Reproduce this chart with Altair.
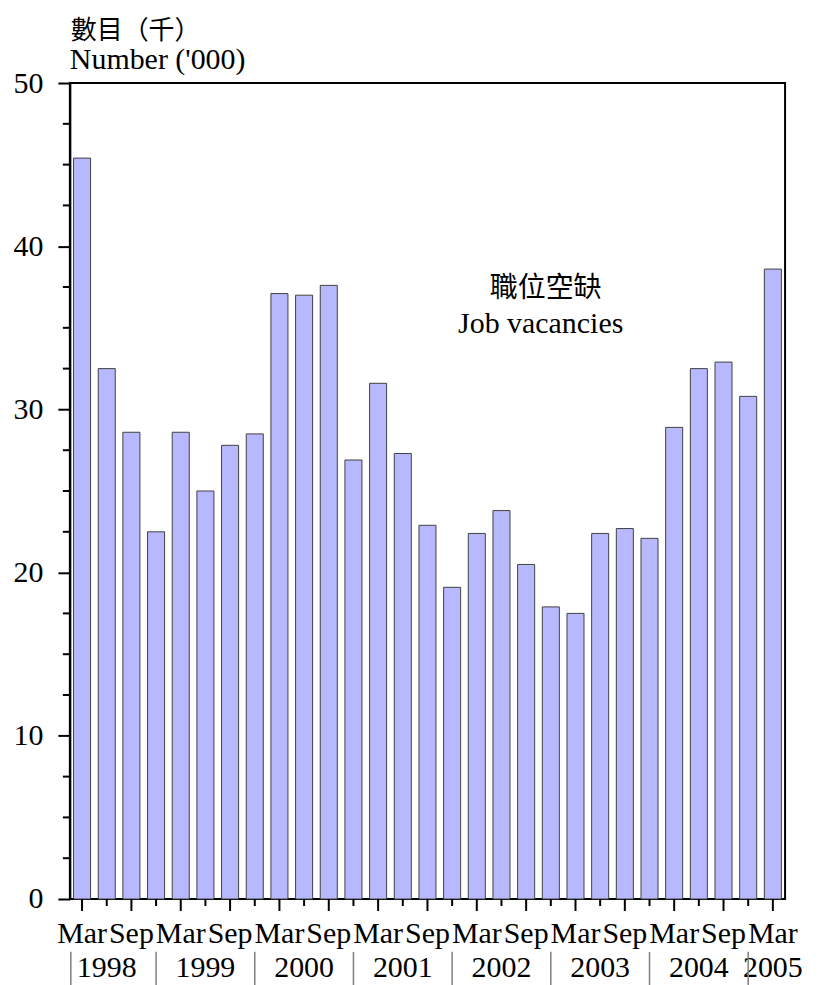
import altair as alt
import pandas as pd

# ---- data -------------------------------------------------------------
quarters = [
    "1998-Mar", "1998-Jun", "1998-Sep", "1998-Dec",
    "1999-Mar", "1999-Jun", "1999-Sep", "1999-Dec",
    "2000-Mar", "2000-Jun", "2000-Sep", "2000-Dec",
    "2001-Mar", "2001-Jun", "2001-Sep", "2001-Dec",
    "2002-Mar", "2002-Jun", "2002-Sep", "2002-Dec",
    "2003-Mar", "2003-Jun", "2003-Sep", "2003-Dec",
    "2004-Mar", "2004-Jun", "2004-Sep", "2004-Dec",
    "2005-Mar",
]
vacancies = [
    45.4, 32.5, 28.6, 22.5,
    28.6, 25.0, 27.8, 28.5,
    37.1, 37.0, 37.6, 26.9,
    31.6, 27.3, 22.9, 19.1,
    22.4, 23.8, 20.5, 17.9,
    17.5, 22.4, 22.7, 22.1,
    28.9, 32.5, 32.9, 30.8,
    38.6,
]
month_label_pos = ["1998-Mar", "1998-Sep", "1999-Mar", "1999-Sep",
                   "2000-Mar", "2000-Sep", "2001-Mar", "2001-Sep",
                   "2002-Mar", "2002-Sep", "2003-Mar", "2003-Sep",
                   "2004-Mar", "2004-Sep", "2005-Mar"]
month_labels = ["Mar", "Sep"] * 7 + ["Mar"]
minor_x_tick_pos = ["1998-Jun", "1998-Dec", "1999-Jun", "1999-Dec",
                    "2000-Jun", "2000-Dec", "2001-Jun", "2001-Dec",
                    "2002-Jun", "2002-Dec", "2003-Jun", "2003-Dec",
                    "2004-Jun", "2004-Dec"]
year_labels = ["1998", "1999", "2000", "2001", "2002", "2003", "2004", "2005"]
year_label_pos = ["1998-Jun", "1999-Jun", "2000-Jun", "2001-Jun",
                  "2002-Jun", "2003-Jun", "2004-Jun", "2005-Mar"]
separator_pos = ["1998-Dec", "1999-Dec", "2000-Dec", "2001-Dec",
                 "2002-Dec", "2003-Dec", "2004-Dec"]
y_major_ticks = [0, 10, 20, 30, 40, 50]
y_minor_ticks = [2.5, 5, 7.5, 12.5, 15, 17.5, 22.5, 25, 27.5,
                 32.5, 35, 37.5, 42.5, 45, 47.5]
unit_title_zh = ["數目（千）"]
unit_title_en = ["Number ('000)"]
series_label_zh = ["職位空缺"]
series_label_en = ["Job vacancies"]

# ---- styling ----------------------------------------------------------
W, H = 717, 818
SERIF = "Liberation Serif"
CJK = "Noto Sans CJK TC"

bars_df = pd.DataFrame({"q": quarters, "v": vacancies})
xscale = alt.Scale(domain=quarters, paddingInner=0.31, paddingOuter=0.15)
yscale = alt.Scale(domain=[0, 50], nice=False)

y_axis = alt.Axis(
    title=None, values=y_major_ticks,
    tickSize=12, tickWidth=2, tickColor="black",
    domainColor="black", domainWidth=2,
    labelFont=SERIF, labelFontSize=30, labelColor="black",
    labelPadding=15, labelOverlap=False, labelFlush=False, labelBound=False,
    grid=False,
)

bars = alt.Chart(bars_df).mark_bar(
    fill="#b8b8ff", stroke="#404040", strokeWidth=1
).encode(
    x=alt.X("q:N", scale=xscale, axis=None),
    y=alt.Y("v:Q", scale=yscale, axis=y_axis),
)

y_minor = alt.Chart(pd.DataFrame({"v": y_minor_ticks})).mark_rule(
    color="black", strokeWidth=2
).encode(
    y=alt.Y("v:Q", scale=yscale, axis=y_axis),
    x=alt.value(-7), x2=alt.value(0),
)

x_major = alt.Chart(pd.DataFrame({"q": month_label_pos})).mark_rule(
    color="black", strokeWidth=2
).encode(
    x=alt.X("q:N", scale=xscale, axis=None),
    y=alt.value(H), y2=alt.value(H + 12),
)
x_minor = alt.Chart(pd.DataFrame({"q": minor_x_tick_pos})).mark_rule(
    color="black", strokeWidth=2
).encode(
    x=alt.X("q:N", scale=xscale, axis=None),
    y=alt.value(H), y2=alt.value(H + 7),
)
x_labels = alt.Chart(pd.DataFrame({"q": month_label_pos, "t": month_labels})).mark_text(
    font=SERIF, fontSize=30, color="black", align="center", baseline="alphabetic"
).encode(
    x=alt.X("q:N", scale=xscale, axis=None),
    y=alt.value(H + 44),
    text="t:N",
)

year_text = alt.Chart(pd.DataFrame({"q": year_label_pos, "t": year_labels})).mark_text(
    font=SERIF, fontSize=30, color="black", align="center", baseline="alphabetic"
).encode(
    x=alt.X("q:N", scale=xscale, axis=None),
    y=alt.value(H + 78),
    text="t:N",
)

separators = alt.Chart(pd.DataFrame({"q": separator_pos})).mark_rule(
    color="#808080", strokeWidth=1.5
).encode(
    x=alt.X("q:N", scale=xscale, axis=None),
    y=alt.value(H + 53),
    y2=alt.value(H + 95),
)
first_sep = alt.Chart(pd.DataFrame({"k": [0]})).mark_rule(
    color="#808080", strokeWidth=1.5
).encode(
    x=alt.value(1), y=alt.value(H + 53), y2=alt.value(H + 95)
)


def label(values, font, size, x, y, align="left"):
    return alt.Chart(pd.DataFrame({"t": values})).mark_text(
        font=font, fontSize=size, color="black", align=align, baseline="alphabetic"
    ).encode(x=alt.value(x), y=alt.value(y), text="t:N")


t1 = label(unit_title_zh, CJK, 26, 1, -44)
t2 = label(unit_title_en, SERIF, 30, 0, -14)
t3 = label(series_label_zh, CJK, 28, 477, 215, align="center")
t4 = label(series_label_en, SERIF, 30, 472, 251, align="center")

chart = alt.layer(
    bars, y_minor, x_major, x_minor, x_labels, year_text, separators, first_sep,
    t1, t2, t3, t4
).properties(
    width=W, height=H,
    padding={"left": 62, "top": 74, "right": 30, "bottom": 85},
    autosize=alt.AutoSizeParams(type="none"),
).configure_view(
    stroke="black", strokeWidth=2
)

chart.save("out.html", embed_options={"renderer": "svg", "actions": False})
